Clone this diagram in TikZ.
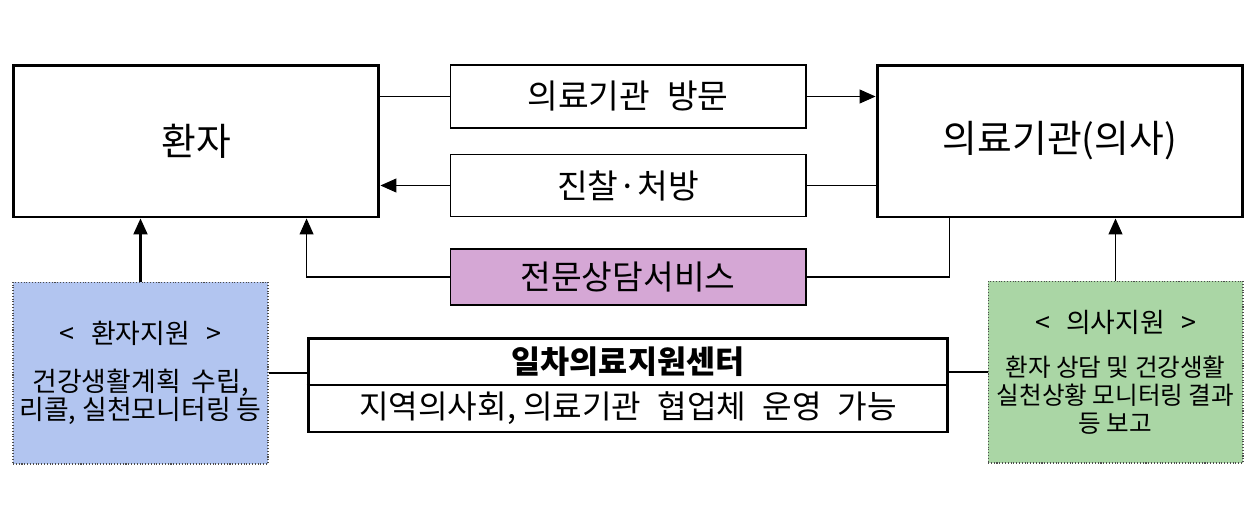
\documentclass[tikz,border=0pt]{standalone}
\usepackage{fontspec}
\usetikzlibrary{arrows.meta}
\newfontfamily\kr{Noto Sans CJK KR}
\definecolor{ptblue}{RGB}{178,197,240}
\definecolor{drgreen}{RGB}{170,214,165}
\definecolor{svcpink}{RGB}{213,167,213}

\begin{document}
\begin{tikzpicture}[x=0.02cm, y=-0.02cm, font=\kr, line width=0.6pt,
            big/.style = {draw, line width=1.7pt, inner sep=0pt, minimum width=7.32cm, minimum height=3.04cm, font=\kr\fontsize{21.5}{25}\selectfont},
            mid/.style = {draw, inner sep=0pt, minimum width=7.12cm, font=\kr\fontsize{19}{22}\selectfont},
            helpbox/.style = {draw=black!70, densely dotted, inner sep=0pt, minimum width=5.1cm, minimum height=3.64cm, align=center},
            arr/.style = {-{Triangle[length=0.32cm, width=0.28cm]}}]
            \useasboundingbox (0,0) rectangle (1258,505);
            \node[big] (pat) at (196,141) {환자};
            \node[big] (hosp) at (1060,141) {의료기관(의사)};
            \node[mid, minimum height=1.26cm] (visit) at (628,96.5) {의료기관\hspace{0.5em}방문};
            \node[mid, minimum height=1.24cm] (exam) at (628,185.5) {진찰·처방};
            \node[mid, minimum height=1.12cm, fill=svcpink] (svc) at (628,277) {전문상담서비스};
            \node[helpbox, fill=ptblue, font=\kr\fontsize{15.3}{16}\selectfont] (ptsup) at (140.5,373) {<\hspace{0.6em}환자지원\hspace{0.6em}>\\[11pt] 건강생활계획\hspace{0.4em}수립,\\ 리콜, 실천모니터링 등};
            \node[helpbox, fill=drgreen, font=\kr\fontsize{14}{15.9}\selectfont] (drsup) at (1115.5,372) {{\fontsize{15.3}{16}\selectfont <\hspace{0.6em}의사지원\hspace{0.6em}>}\\[9pt] 환자 상담 및 건강생활\\ 실천상황 모니터링 결과\\ 등 보고};
            \node[draw, line width=1.7pt, inner sep=0pt, minimum width=12.8cm, minimum height=1.88cm] (ctr) at (628,385) {};
            \node[font=\kr\bfseries\fontsize{18}{20}\selectfont] (ctrtitle) at (628,361.5) {일차의료지원센터};
            \node[font=\kr\fontsize{18.3}{20}\selectfont] (ctrsub) at (628,408.5) {지역의사회, 의료기관\hspace{0.5em}협업체\hspace{0.5em}운영\hspace{0.5em}가능};
            \draw (ctr.west) -- (ctr.east);
            \draw (pat.east |- visit.west) -- (visit.west);
            \draw[arr] (visit.east) -- (visit.east -| hosp.west);
            \draw (hosp.west |- exam.east) -- (exam.east);
            \draw[arr] (exam.west) -- (exam.west -| pat.east);
            \draw[arr] (svc.west) -| (ctr.west |- pat.south);
            \draw (svc.east) -| (ctr.east |- hosp.south);
            \draw[arr, line width=1.2pt] (ptsup.north) -- (pat.south -| ptsup.north);
            \draw[arr] (drsup.north) -- (hosp.south -| drsup.north);
            \draw (ptsup.east) -- (ptsup.east -| ctr.west);
            \draw (drsup.west) -- (drsup.west -| ctr.east);
\end{tikzpicture}
\end{document}
